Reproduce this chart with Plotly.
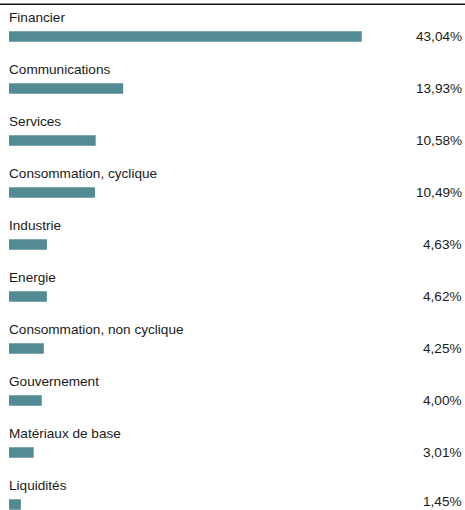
import plotly.graph_objects as go

categories = ["Financier", "Communications", "Services", "Consommation, cyclique", "Industrie",
              "Energie", "Consommation, non cyclique", "Gouvernement", "Matériaux de base", "Liquidités"]
values = [43.04, 13.93, 10.58, 10.49, 4.63, 4.62, 4.25, 4.00, 3.01, 1.45]
value_labels = ["43,04%", "13,93%", "10,58%", "10,49%", "4,63%", "4,62%", "4,25%", "4,00%", "3,01%", "1,45%"]

W, H = 465, 510
x0_px = 9.0
px_per_unit = 8.195
row0_px = 36.5
row_step = 52.0

idx = list(range(len(categories)))

fig = go.Figure()
fig.add_trace(go.Bar(
    x=values, y=idx, orientation="h", width=10.5 / row_step,
    marker=dict(color="#528b93", line=dict(width=0)),
    hoverinfo="skip",
))

font = dict(family="Liberation Sans, Arial, sans-serif", size=13.6, color="#1a1a1a")
n = len(categories)
for i, (c, v) in enumerate(zip(categories, value_labels)):
    fig.add_annotation(x=0, y=i - 19.5 / row_step, text=c, xref="x", yref="y",
                       xanchor="left", yanchor="middle", showarrow=False, font=font,
                       borderpad=0, xshift=-1)
    fig.add_annotation(x=463 / W, y=i, text=v, xref="paper", yref="y",
                       xanchor="right", yanchor="middle", showarrow=False, font=font,
                       borderpad=0, yshift=3 if i == n - 1 else 0)

fig.add_shape(type="line", xref="paper", yref="paper", x0=0, x1=1,
              y0=1 - 4.3 / H, y1=1 - 4.3 / H, line=dict(color="#111111", width=1.6))

fig.update_layout(
    width=W, height=H, margin=dict(l=0, r=0, t=0, b=0),
    paper_bgcolor="white", plot_bgcolor="white", showlegend=False,
    xaxis=dict(range=[-x0_px / px_per_unit, (W - x0_px) / px_per_unit], visible=False, fixedrange=True),
    yaxis=dict(range=[(H - row0_px) / row_step, -row0_px / row_step], visible=False, fixedrange=True),
)
fig.write_html("out.html", config={"displayModeBar": False},
               post_script="document.body.style.margin='0';document.body.style.overflow='hidden';")
